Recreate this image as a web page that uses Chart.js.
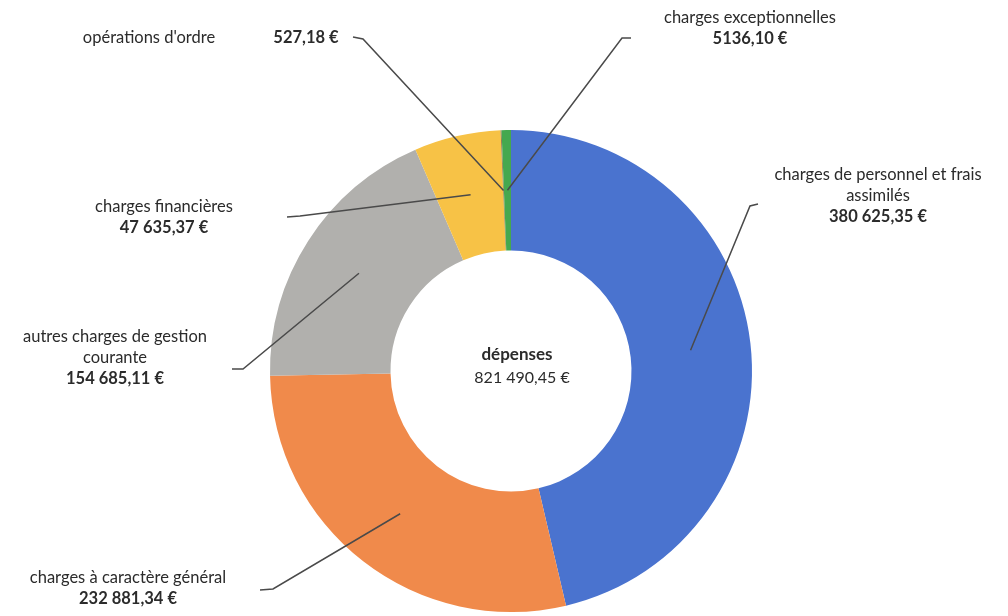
<!DOCTYPE html>
<html>
<head>
<meta charset="utf-8">
<script src="https://cdn.jsdelivr.net/npm/chart.js@4"></script>
<style>
    html, body { margin: 0; padding: 0; background: #fff; }
    #wrap { width: 1008px; height: 616px; position: relative; }
</style>
</head>
<body>
<div id="wrap"><canvas id="depensesChart"></canvas></div>
<script>
// slices, clockwise from 12 o'clock
const categories = [
    'charges de personnel et frais assimilés',
    'charges à caractère général',
    'autres charges de gestion courante',
    'charges financières',
    "opérations d'ordre",
    'charges exceptionnelles'
];
const amounts = [380625.35, 232881.34, 154685.11, 47635.37, 527.18, 5136.10];
const amountLabels = ['380 625,35 €', '232 881,34 €', '154 685,11 €', '47 635,37 €', '527,18 €', '5136,10 €'];
const totalLabel = '821 490,45 €';
const sliceColors = ['#4a73cf', '#f08a4b', '#b1b0ad', '#f7c246', '#8c7a4a', '#45a84f'];

// label layout: text lines, where they sit, and where the leader line starts
const labelLayout = [
    {lines: ['charges de personnel et frais', 'assimilés'], x: 878, y: 175, stub: [[758, 204], [750, 206]]},
    {lines: ['charges à caractère général'], x: 128, y: 578, stub: [[260, 590], [273, 589]]},
    {lines: ['autres charges de gestion', 'courante'], x: 115, y: 337, stub: [[232, 369], [243, 369]]},
    {lines: ['charges financières'], x: 164, y: 207, stub: [[287, 217], [300, 216]]},
    {lines: [], x: 0, y: 0, stub: [[353, 37], [363, 39]]},
    {lines: ['charges exceptionnelles'], x: 750, y: 18, stub: [[631, 38], [622, 38]]}
];

const FONT = 'Lato, "Open Sans", sans-serif';
const TEXT = '#2b2b2b';

const labelsPlugin = {
    id: 'labelsPlugin',
    afterDatasetsDraw(chart) {
        const ctx = chart.ctx;
        const arcs = chart.getDatasetMeta(0).data;
        ctx.save();

        // leader lines
        arcs.forEach((arc, i) => {
            const p = arc.getProps(['x', 'y', 'startAngle', 'endAngle', 'innerRadius', 'outerRadius'], true);
            const a = (p.startAngle + p.endAngle) / 2;
            const r = (p.innerRadius + p.outerRadius) / 2;
            const ex = p.x + Math.cos(a) * r;
            const ey = p.y + Math.sin(a) * r;
            const s = labelLayout[i].stub;
            ctx.beginPath();
            ctx.moveTo(s[0][0], s[0][1]);
            ctx.lineTo(s[1][0], s[1][1]);
            ctx.lineTo(ex, ey);
            ctx.strokeStyle = '#4a4a4a';
            ctx.lineWidth = 1.5;
            ctx.stroke();
        });

        // label texts
        ctx.fillStyle = TEXT;
        ctx.textAlign = 'center';
        ctx.textBaseline = 'middle';
        labelLayout.forEach((lab, i) => {
            let y = lab.y;
            ctx.font = '16.5px ' + FONT;
            lab.lines.forEach(line => {
                ctx.fillText(line, lab.x, y);
                y += 20.8;
            });
            if (lab.lines.length) {
                ctx.font = 'bold 16.5px ' + FONT;
                ctx.fillText(amountLabels[i], lab.x, y);
            }
        });

        // opérations d'ordre sits on one line
        ctx.font = '16.5px ' + FONT;
        ctx.fillText(categories[4], 149, 38);
        ctx.font = 'bold 16.5px ' + FONT;
        ctx.fillText(amountLabels[4], 306, 38);

        // centre
        const c = arcs[0];
        ctx.font = 'bold 17px ' + FONT;
        ctx.fillText('dépenses', c.x + 6, c.y - 16);
        ctx.font = '16px ' + FONT;
        ctx.fillText(totalLabel, c.x + 11, c.y + 7);
        ctx.restore();
    }
};

const ctx = document.getElementById('depensesChart').getContext('2d');
new Chart(ctx, {
    type: 'doughnut',
    data: {
        labels: categories,
        datasets: [{
            data: amounts,
            backgroundColor: sliceColors,
            borderWidth: 0
        }]
    },
    options: {
        responsive: true,
        maintainAspectRatio: false,
        animation: false,
        cutout: '50%',
        layout: {padding: {top: 130, bottom: 4, left: 270, right: 256}},
        plugins: {
            legend: {display: false},
            tooltip: {enabled: false}
        }
    },
    plugins: [labelsPlugin]
});
</script>
</body>
</html>
